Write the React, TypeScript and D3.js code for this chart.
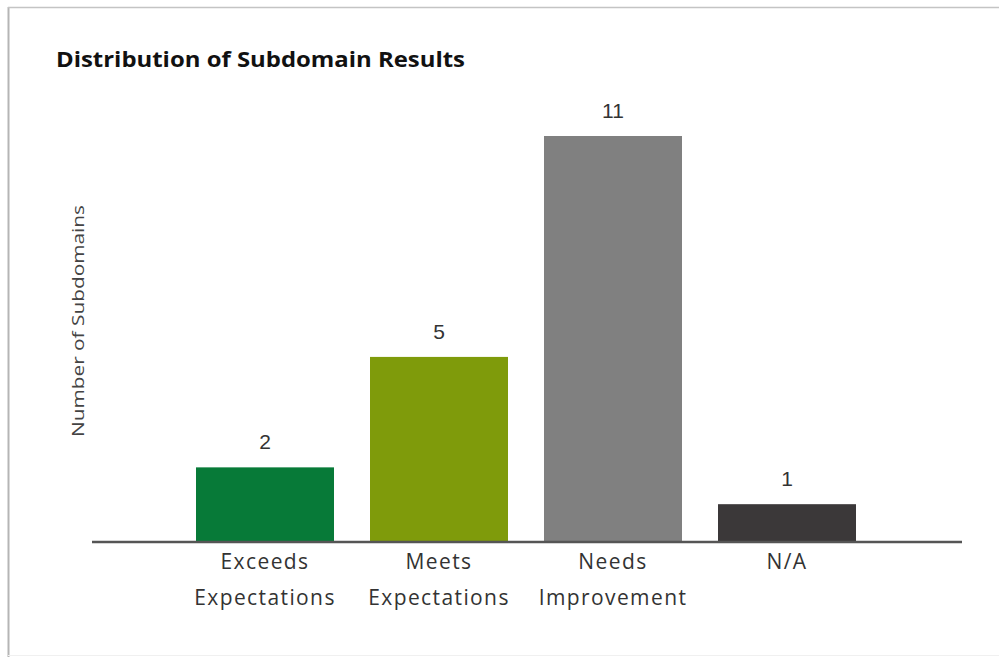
import React, { useEffect, useRef } from "react";
import * as d3 from "d3";

const categories = ["Exceeds\nExpectations", "Meets\nExpectations", "Needs\nImprovement", "N/A"];
const counts = [2, 5, 11, 1];
const barColors = ["#077a38", "#7f9b0b", "#808080", "#3b3839"];

const App = () => {
  const ref = useRef<SVGSVGElement | null>(null);

  useEffect(() => {
    const svg = d3.select(ref.current);
    svg.selectAll("*").remove();

    // frame around the picture
    svg.append("line").attr("x1", 8.5).attr("x2", 8.5).attr("y1", 7).attr("y2", 657)
      .style("stroke", "#b5b5b5").style("stroke-width", 2);
    svg.append("line").attr("x1", 8).attr("x2", 999).attr("y1", 7.5).attr("y2", 7.5)
      .style("stroke", "#c4c4c4").style("stroke-width", 1.5);
    svg.append("line").attr("x1", 8).attr("x2", 999).attr("y1", 655.5).attr("y2", 655.5)
      .style("stroke", "#f0f0f0").style("stroke-width", 1);

    const x = d3.scaleBand()
      .domain(categories)
      .range([178, 874])
      .paddingInner(0.207)
      .paddingOuter(0.1035);

    const y = d3.scaleLinear().domain([0, 11]).range([541, 136]);

    svg.append("text")
      .attr("x", 56)
      .attr("y", 67)
      .attr("textLength", 409)
      .attr("lengthAdjust", "spacingAndGlyphs")
      .style("font-family", "'Open Sans', sans-serif")
      .style("font-weight", "bold")
      .style("font-size", "21px")
      .style("fill", "#111")
      .text("Distribution of Subdomain Results");

    svg.append("text")
      .attr("transform", `translate(84, 321) rotate(-90)`)
      .attr("textLength", 232)
      .attr("lengthAdjust", "spacingAndGlyphs")
      .style("text-anchor", "middle")
      .style("font-family", "'Open Sans', sans-serif")
      .style("font-size", "16px")
      .style("fill", "#444")
      .text("Number of Subdomains");

    svg.selectAll(".bar")
      .data(counts)
      .enter()
      .append("rect")
      .attr("class", "bar")
      .attr("x", (d, i) => x(categories[i]))
      .attr("y", d => y(d))
      .attr("width", x.bandwidth())
      .attr("height", d => y(0) - y(d))
      .style("fill", (d, i) => barColors[i]);

    svg.selectAll(".value")
      .data(counts)
      .enter()
      .append("text")
      .attr("class", "value")
      .attr("x", (d, i) => x(categories[i]) + x.bandwidth() / 2)
      .attr("y", d => y(d) - 18)
      .style("text-anchor", "middle")
      .style("font-family", "'Liberation Sans', Arial, sans-serif")
      .style("font-size", "21px")
      .style("fill", "#333")
      .text(d => d);

    // baseline
    svg.append("line")
      .attr("x1", 92).attr("x2", 962)
      .attr("y1", y(0) + 1).attr("y2", y(0) + 1)
      .style("stroke", "#555").style("stroke-width", 2.5);

    const labels = svg.selectAll(".cat")
      .data(categories)
      .enter()
      .append("text")
      .attr("class", "cat")
      .attr("x", d => x(d) + x.bandwidth() / 2)
      .attr("y", 569)
      .style("text-anchor", "middle")
      .style("font-family", "'Open Sans', sans-serif")
      .style("font-size", "21px")
      .style("letter-spacing", "1.4px")
      .style("fill", "#333");

    labels.each(function (d) {
      const parts = d.split("\n");
      parts.forEach((p, j) => {
        d3.select(this).append("tspan")
          .attr("x", x(d) + x.bandwidth() / 2)
          .attr("dy", j === 0 ? 0 : 36)
          .text(p);
      });
    });
  }, []);

  return (
    <svg
      ref={ref}
      width={999}
      height={657}
      style={{ position: "absolute", left: 0, top: 0, background: "#fff" }}
    />
  );
};

export default App;
